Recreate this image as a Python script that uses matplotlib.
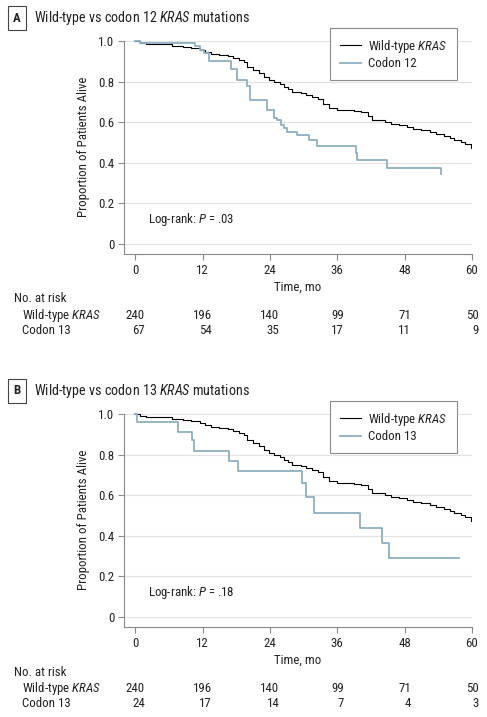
import matplotlib
matplotlib.use("Agg")
import matplotlib.pyplot as plt
import matplotlib.transforms as mtransforms
from matplotlib import font_manager

# survival curves (months, proportion alive)
wt_t = [0, 0.8, 2.0, 4.5, 6.5, 8.5, 10.0, 11.5, 12.5, 13.5,
        15.0, 16.5, 17.5, 18.5, 19.3, 20.0, 21.0, 22.0, 23.0, 23.8,
        24.8, 25.8, 26.5, 27.3, 28.0, 29.5, 30.5, 31.5, 32.5, 33.5,
        34.5, 36.0, 39.0, 40.2, 41.5, 42.2, 44.5, 45.5, 47.0, 48.5,
        49.5, 51.0, 52.5, 53.5, 55.0, 56.0, 56.8, 58.0, 58.8, 59.8, 60.0]
wt_s = [1.0, 0.992, 0.987, 0.983, 0.975, 0.97, 0.966, 0.958, 0.945, 0.935,
        0.93, 0.925, 0.915, 0.905, 0.895, 0.87, 0.855, 0.84, 0.825, 0.81,
        0.80, 0.79, 0.775, 0.765, 0.75, 0.745, 0.735, 0.725, 0.715, 0.69,
        0.67, 0.66, 0.655, 0.65, 0.63, 0.61, 0.60, 0.59, 0.585, 0.575,
        0.565, 0.56, 0.55, 0.54, 0.53, 0.52, 0.51, 0.50, 0.49, 0.475, 0.475]

c12_t = [0, 0.9, 10.7, 11.5, 12.3, 13.1, 17.0, 18.2, 20.0, 20.5, 23.5, 24.7,
         25.3, 25.9, 26.5, 27.1, 28.9, 31.0, 32.4, 39.3, 39.6, 44.9, 54.4]
c12_s = [1.0, 0.99, 0.975, 0.957, 0.94, 0.90, 0.86, 0.81, 0.78, 0.71, 0.66, 0.62,
         0.61, 0.586, 0.57, 0.55, 0.537, 0.51, 0.48, 0.447, 0.414, 0.376, 0.343]

c13_t = [0, 0.3, 7.7, 10.1, 10.4, 16.7, 18.3, 29.8, 30.5, 31.8, 40.0, 43.9, 45.2, 57.7]
c13_s = [1.0, 0.962, 0.913, 0.87, 0.82, 0.77, 0.72, 0.66, 0.59, 0.51, 0.437, 0.363, 0.289, 0.289]

risk_times = [0, 12, 24, 36, 48, 60]
wt_risk = [240, 196, 140, 99, 71, 50]
c12_risk = [67, 54, 35, 17, 11, 9]
c13_risk = [24, 17, 14, 7, 4, 3]

avail = {f.name for f in font_manager.fontManager.ttflist}
font = "DejaVu Sans"
for name in ["Roboto Condensed", "Liberation Sans Narrow", "Lato", "Roboto", "Open Sans"]:
    if name in avail:
        font = name
        break
plt.rcParams["font.family"] = [font, "DejaVu Sans"]
plt.rcParams["mathtext.fontset"] = "custom"
plt.rcParams["mathtext.rm"] = font
plt.rcParams["mathtext.it"] = font + ":italic"
plt.rcParams["mathtext.bf"] = font + ":bold"

W, H = 487, 717
TXT = "#222222"
GRAY = "#8a8a8a"
BLUE = "#8cb0c2"
FS = 9.3

fig = plt.figure(figsize=(W / 100, H / 100), dpi=100)


def fy(px):
    return 1 - px / H


def draw_panel(top_px, letter, title, c_label, c_t, c_s, risk_label, c_risk, pval):
    # top_px: pixel row of the 1.0 gridline
    bottom_px = top_px + 213
    ax = fig.add_axes([124 / W, fy(bottom_px), 348 / W, (bottom_px - top_px + 2) / H])
    ax.step(wt_t, wt_s, where="post", color="black", lw=0.8, label="Wild-type $\\mathit{KRAS}$")
    ax.step(c_t, c_s, where="post", color=BLUE, lw=1.3, label=c_label)
    ax.set_xlim(-2, 60)
    ax.set_ylim(-0.05, 1.01)
    ax.set_xticks(risk_times)
    ax.set_yticks([0, 0.2, 0.4, 0.6, 0.8, 1.0])
    ax.set_yticklabels(["0", "0.2", "0.4", "0.6", "0.8", "1.0"])
    ax.yaxis.grid(True, color="#e2e2e2", lw=0.8)
    ax.set_axisbelow(True)
    for s in ["top", "right"]:
        ax.spines[s].set_visible(False)
    for s in ["left", "bottom"]:
        ax.spines[s].set_color(GRAY)
        ax.spines[s].set_linewidth(0.8)
    ax.spines["left"].set_bounds(-0.05, 1.0)
    ax.tick_params(direction="out", length=4, width=0.8, color=GRAY,
                   labelcolor=TXT, labelsize=FS, pad=3)
    ax.set_xlabel("Time, mo", fontsize=FS, color=TXT, labelpad=3)
    ax.set_ylabel("Proportion of Patients Alive", fontsize=FS, color=TXT, labelpad=6)
    ax.text(2.3, 0.12, "Log-rank: $\\mathit{P}$ = " + pval, fontsize=FS, color=TXT, va="center")

    leg = ax.legend(loc="upper right", bbox_to_anchor=(0.957, 1.051), borderaxespad=0,
                    fontsize=FS, fancybox=False, handlelength=1.6, handletextpad=0.6,
                    borderpad=0.75, labelspacing=0.2, framealpha=1)
    leg.get_frame().set_edgecolor(GRAY)
    leg.get_frame().set_linewidth(0.8)
    for t in leg.get_texts():
        t.set_color(TXT)

    # panel letter and title
    ty = fy(top_px - 23)
    fig.text(17 / W, ty, letter, fontsize=FS, fontweight="bold", color=TXT,
             ha="center", va="center",
             bbox=dict(boxstyle="square,pad=0.4", fc="white", ec="#444444", lw=0.8))
    fig.text(34 / W, ty, title, fontsize=10.2, color=TXT, ha="left", va="center")

    # number at risk table
    fig.text(14 / W, fy(bottom_px + 45), "No. at risk", fontsize=FS, color=TXT, va="center")
    fig.text(22 / W, fy(bottom_px + 61.5), "Wild-type $\\mathit{KRAS}$", fontsize=FS, color=TXT, va="center")
    fig.text(22 / W, fy(bottom_px + 76.5), risk_label, fontsize=FS, color=TXT, va="center")
    trans = mtransforms.blended_transform_factory(ax.transData, fig.transFigure)
    for t, n1, n2 in zip(risk_times, wt_risk, c_risk):
        top = ax.text(t, fy(bottom_px + 61.5), str(n1), transform=trans, fontsize=FS,
                      color=TXT, ha="center", va="center", clip_on=False)
        ax.annotate(str(n2), xy=(1, 0.5), xycoords=top, xytext=(0, -10.8),
                    textcoords="offset points", fontsize=FS, color=TXT,
                    ha="right", va="center", annotation_clip=False)
    return ax


draw_panel(41, "A", "Wild-type vs codon 12 $\\mathit{KRAS}$ mutations", "Codon 12",
           c12_t, c12_s, "Codon 13", c12_risk, ".03")
draw_panel(414, "B", "Wild-type vs codon 13 $\\mathit{KRAS}$ mutations", "Codon 13",
           c13_t, c13_s, "Codon 13", c13_risk, ".18")

fig.savefig("out.png", dpi=100)
